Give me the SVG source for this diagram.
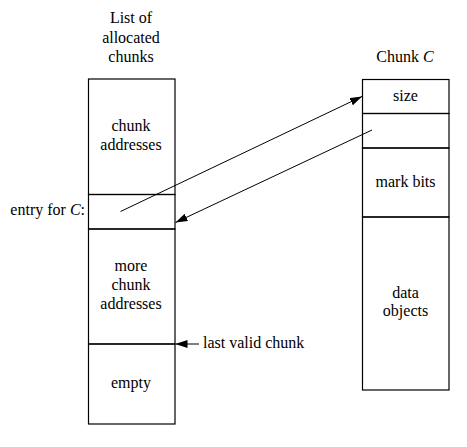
<svg xmlns="http://www.w3.org/2000/svg" width="467" height="447" viewBox="0 0 467 447" font-family="'Liberation Serif', 'Times New Roman', Times, 'DejaVu Serif', serif" font-size="16">
<style>
text{font-family:'Liberation Serif','Times New Roman',Times,'DejaVu Serif',serif;font-size:16px;fill:#000}
.c{text-anchor:middle}
.box{fill:none;stroke:#000;stroke-width:1.2}
.conn{stroke:#000;stroke-width:1;fill:none}
</style>
<defs>
<marker id="ah" markerWidth="12" markerHeight="8" refX="12" refY="4" orient="auto" markerUnits="userSpaceOnUse">
<path d="M0,0 L12,4 L0,8 Z" fill="#000"/>
</marker>
</defs>
<rect width="467" height="447" fill="#fff"/>
<g id="list-title">
<text class="c" x="131" y="23">List of</text>
<text class="c" x="131" y="42.5">allocated</text>
<text class="c" x="131" y="62">chunks</text>
</g>
<g id="list-chunk-addresses">
<rect class="box" x="88.5" y="79" width="86.5" height="115.5"/>
<text class="c" x="131" y="131">chunk</text>
<text class="c" x="131" y="150">addresses</text>
</g>
<g id="list-entry">
<rect class="box" x="88.5" y="194.5" width="86.5" height="34.5"/>
<text x="85" y="215" text-anchor="end">entry for <tspan font-style="italic">C</tspan>:</text>
</g>
<g id="list-more">
<rect class="box" x="88.5" y="229" width="86.5" height="115"/>
<text class="c" x="131" y="271">more</text>
<text class="c" x="131" y="290">chunk</text>
<text class="c" x="131" y="309">addresses</text>
</g>
<g id="list-empty">
<rect class="box" x="88.5" y="344" width="86.5" height="80"/>
<text class="c" x="131" y="388">empty</text>
</g>
<g id="chunk-title">
<text class="c" x="405" y="61.5">Chunk <tspan font-style="italic">C</tspan></text>
</g>
<g id="chunk-size">
<rect class="box" x="362.5" y="79.5" width="86.5" height="34"/>
<text class="c" x="405.5" y="100.5">size</text>
</g>
<g id="chunk-link">
<rect class="box" x="362.5" y="113.5" width="86.5" height="34.5"/>
</g>
<g id="chunk-mark">
<rect class="box" x="362.5" y="148" width="86.5" height="69"/>
<text class="c" x="405.5" y="186.5">mark bits</text>
</g>
<g id="chunk-data">
<rect class="box" x="362.5" y="217" width="86.5" height="173"/>
<text class="c" x="405.5" y="297.5">data</text>
<text class="c" x="405.5" y="315.5">objects</text>
</g>
<g id="connectors">
<line class="conn" x1="120.5" y1="211.5" x2="362" y2="96.5" marker-end="url(#ah)"/>
<line class="conn" x1="372" y1="130" x2="175.5" y2="222.5" marker-end="url(#ah)"/>
<line class="conn" x1="199" y1="344" x2="175.5" y2="344" marker-end="url(#ah)"/>
<text x="203" y="348">last valid chunk</text>
</g>
</svg>
